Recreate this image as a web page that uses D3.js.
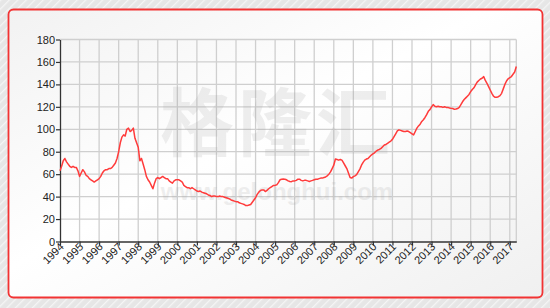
<!DOCTYPE html>
<html>
<head>
<meta charset="utf-8">
<script src="https://cdn.jsdelivr.net/npm/d3@7"></script>
<style>
    html, body { margin: 0; padding: 0; background: #e6e6e6; }
    svg { display: block; }
</style>
</head>
<body>
<div id="chart"></div>
<script>
(function () {
    "use strict";

    // monthly values, one row per year (Jan 1994 .. May 2017)
    var startYear = 1994;
    var values = [].concat(
        [63, 67, 72, 74, 71, 69, 67, 66, 67, 66, 66, 63],                 // 1994
        [58, 61, 64, 62, 59, 58, 56, 55, 54, 53, 54, 55],                 // 1995
        [56, 58, 61, 63, 64, 64, 65, 65, 66, 68, 70, 74],                 // 1996
        [80, 88, 93, 95, 94, 100, 101, 98, 99, 101, 92, 88],              // 1997
        [84, 72, 74, 69, 64, 58, 55, 53, 50, 47, 52, 56],                 // 1998
        [57, 56, 57, 58, 57, 56, 56, 54, 53, 52, 54, 55],                 // 1999
        [55, 55, 54, 53, 50, 49, 48, 48, 47, 48, 47, 46],                 // 2000
        [45, 44.5, 45, 44, 43.5, 43, 42.5, 41.5, 41, 40, 40.5, 40.5],     // 2001
        [40, 40, 40.5, 40, 40, 39.5, 39, 38.5, 38, 37, 36.5, 36],         // 2002
        [35.5, 35.5, 34.5, 34, 33.5, 33, 32, 32, 32.5, 33, 35, 37],       // 2003
        [39, 42, 44, 45.5, 46, 46, 44.5, 45.5, 47, 48, 49, 50],           // 2004
        [50, 50.5, 52.5, 55, 55.5, 55.7, 55.5, 55, 54, 53.5, 53.3, 54],   // 2005
        [54, 54.5, 55.5, 55.5, 54.5, 54, 54.5, 54.5, 54, 53.5, 54, 54.5], // 2006
        [55, 55.5, 55.5, 56, 56.5, 56.5, 57, 57.5, 58.5, 60, 62, 65],     // 2007
        [68, 73.5, 73, 72.5, 73, 72.5, 70, 67.5, 65, 61, 57, 56.5],       // 2008
        [57.8, 58.5, 59.5, 62, 64.5, 68, 70.5, 72.5, 73.5, 74, 75.5, 77], // 2009
        [78, 79, 80.5, 81.5, 82, 83, 84.5, 86, 86.5, 87.5, 88.5, 89.5],   // 2010
        [91, 93.5, 96, 98.5, 99.5, 99, 98.5, 98, 98, 98.5, 98, 97],       // 2011
        [96, 95, 98, 101, 103, 104.5, 107, 108.5, 110.5, 113, 116, 117.5],              // 2012
        [120, 122, 120.5, 120, 120.5, 120, 120, 119.5, 120, 119.5, 119.5, 119],         // 2013
        [118.7, 118.5, 117.8, 118, 118.5, 119.5, 122, 124.5, 126.5, 128, 129.5, 131],   // 2014
        [133.5, 135.5, 137, 139.5, 142, 143.5, 144.8, 145.5, 146.9, 143.5, 141, 138],   // 2015
        [135, 132, 129.5, 128.5, 128.5, 129, 130, 132, 136, 140, 143, 145],             // 2016
        [146, 147, 149, 151, 156]                                                       // 2017
    );

    var yearTicks = d3.range(1994, 2018);
    var valueTicks = [0, 20, 40, 60, 80, 100, 120, 140, 160, 180];

    var data = values.map(function (v, i) {
        return { t: startYear + i / 12, v: v };
    });

    var W = 550, H = 308;
    var left = 60, right = 516.3, top = 39.5, bottom = 241.5;

    var svg = d3.select("#chart").append("svg")
        .attr("width", W)
        .attr("height", H);

    var defs = svg.append("defs");

    // diagonal stripes for the outer background
    var pat = defs.append("pattern")
        .attr("id", "stripes")
        .attr("width", 6)
        .attr("height", 6)
        .attr("patternUnits", "userSpaceOnUse")
        .attr("patternTransform", "rotate(-45)");
    pat.append("rect").attr("width", 6).attr("height", 6).attr("fill", "#e6e6e6");
    pat.append("rect").attr("width", 6).attr("height", 1.3).attr("fill", "#f5f5f5");

    var grad = defs.append("linearGradient")
        .attr("id", "panel")
        .attr("x1", 0).attr("y1", 0).attr("x2", 1).attr("y2", 1);
    grad.append("stop").attr("offset", "0%").attr("stop-color", "#f2f2f2");
    grad.append("stop").attr("offset", "45%").attr("stop-color", "#ffffff");
    grad.append("stop").attr("offset", "100%").attr("stop-color", "#f0f0f0");

    svg.append("rect").attr("width", W).attr("height", H).attr("fill", "url(#stripes)");

    // red rounded frame
    svg.append("rect")
        .attr("x", 8.5).attr("y", 9.5)
        .attr("width", 534).attr("height", 288)
        .attr("rx", 5)
        .attr("fill", "url(#panel)")
        .attr("stroke", "#f23333")
        .attr("stroke-width", 1.8);

    var x = d3.scaleLinear().domain([startYear, 2017 + 4 / 12]).range([left, right]);
    var y = d3.scaleLinear().domain([0, 180]).range([bottom, top]);

    // grid
    var grid = svg.append("g").attr("stroke", "#cfcfcf").attr("stroke-width", 1.3);
    grid.selectAll(".gx")
        .data(yearTicks.slice(1).concat([x.domain()[1]]))
        .enter().append("line")
        .attr("x1", function (d) { return x(d); })
        .attr("x2", function (d) { return x(d); })
        .attr("y1", top).attr("y2", bottom);
    grid.selectAll(".gy")
        .data(valueTicks.slice(1))
        .enter().append("line")
        .attr("y1", function (d) { return y(d); })
        .attr("y2", function (d) { return y(d); })
        .attr("x1", left).attr("x2", right);

    // watermark
    var wm = svg.append("g").attr("fill", "#a0a0a0").attr("opacity", 0.17)
        .attr("font-family", "'Noto Sans CJK SC', sans-serif");
    wm.append("text")
        .attr("x", 277).attr("y", 150)
        .attr("text-anchor", "middle")
        .attr("font-size", 74)
        .attr("font-weight", "bold")
        .attr("letter-spacing", 4)
        .text("格隆汇");
    wm.append("text")
        .attr("x", 277).attr("y", 200)
        .attr("text-anchor", "middle")
        .attr("font-family", "Arial, 'Liberation Sans', sans-serif")
        .attr("font-size", 24)
        .attr("font-weight", "bold")
        .text("www.gelonghui.com");

    // axes
    var xAxis = d3.axisBottom(x).tickValues(yearTicks).tickFormat(d3.format("d")).tickSize(4).tickSizeOuter(0);
    var yAxis = d3.axisLeft(y).tickValues(valueTicks).tickSize(4).tickSizeOuter(0);

    var gx = svg.append("g").attr("transform", "translate(0," + bottom + ")").call(xAxis);
    var gy = svg.append("g").attr("transform", "translate(" + left + ",0)").call(yAxis);

    [gx, gy].forEach(function (g) {
        g.select(".domain").attr("stroke", "#333").attr("stroke-width", 1.3);
        g.selectAll(".tick line").attr("stroke", "#333").attr("stroke-width", 1.2);
        g.selectAll("text")
            .attr("fill", "#222")
            .attr("font-family", "Arial, 'Liberation Sans', sans-serif")
            .attr("font-size", 11);
    });
    gy.selectAll("text").attr("x", -5);
    gx.selectAll("text")
        .attr("text-anchor", "end")
        .attr("dx", 0).attr("dy", 0).attr("y", 0).attr("x", 0)
        .attr("transform", "translate(4,6) rotate(-45)");

    // the series
    var line = d3.line()
        .x(function (d) { return x(d.t); })
        .y(function (d) { return y(d.v); });

    svg.append("path")
        .datum(data)
        .attr("fill", "none")
        .attr("stroke", "#ff3b3b")
        .attr("stroke-width", 1.5)
        .attr("stroke-linejoin", "round")
        .attr("d", line);
})();
</script>
</body>
</html>
